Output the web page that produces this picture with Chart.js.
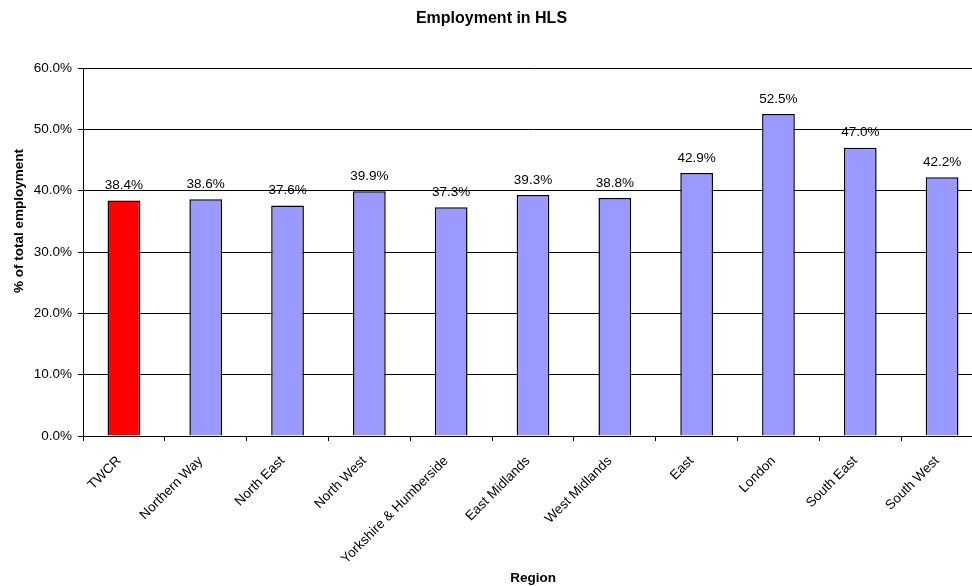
<!DOCTYPE html>
<html>
<head>
<meta charset="utf-8">
<script src="https://cdn.jsdelivr.net/npm/chart.js@4/dist/chart.umd.min.js"></script>
<style>
  html, body { margin: 0; padding: 0; overflow: hidden; background: #fff; }
  #wrap { width: 992px; height: 586px; position: relative; }
</style>
</head>
<body>
<div id="wrap"><canvas id="hlsChart"></canvas></div>
<script>
// Dados do gráfico
const regions = ['TWCR', 'Northern Way', 'North East', 'North West', 'Yorkshire & Humberside',
  'East Midlands', 'West Midlands', 'East', 'London', 'South East', 'South West'];
const shares = [38.4, 38.6, 37.6, 39.9, 37.3, 39.3, 38.8, 42.9, 52.5, 47.0, 42.2];
const barColors = ['#ff0000', '#9999ff', '#9999ff', '#9999ff', '#9999ff', '#9999ff',
  '#9999ff', '#9999ff', '#9999ff', '#9999ff', '#9999ff'];
const yTicks = [0, 10, 20, 30, 40, 50, 60];

const FONT = 'Arial, "Liberation Sans", sans-serif';
Chart.defaults.font.family = FONT;
Chart.defaults.color = '#000';

// rótulos de valor acima das barras + título do eixo Y
const valueLabels = {
  id: 'valueLabels',
  afterDatasetsDraw(chart) {
    const ctx = chart.ctx;
    const meta = chart.getDatasetMeta(0);
    ctx.save();
    ctx.font = '13.5px ' + FONT;
    ctx.fillStyle = '#000';
    ctx.textAlign = 'center';
    ctx.textBaseline = 'middle';
    meta.data.forEach((bar, i) => {
      ctx.fillText(shares[i].toFixed(1) + '%', bar.x, bar.y - 15);
    });
    // título do eixo Y (um pouco acima do centro, como no original)
    ctx.font = 'bold 13.5px ' + FONT;
    ctx.translate(19, 221);
    ctx.rotate(-Math.PI / 2);
    ctx.fillText('% of total employment', 0, 0);
    ctx.restore();
  }
};

new Chart(document.getElementById('hlsChart').getContext('2d'), {
  type: 'bar',
  data: {
    labels: regions,
    datasets: [{
      data: shares,
      backgroundColor: barColors,
      borderColor: '#000',
      borderWidth: 1.5,
      barPercentage: 0.4,
      categoryPercentage: 1
    }]
  },
  options: {
    responsive: true,
    maintainAspectRatio: false,
    animation: false,
    layout: { padding: { left: 0, right: 9, top: 0, bottom: 0 } },
    plugins: {
      legend: { display: false },
      tooltip: { enabled: false },
      title: {
        display: true,
        text: 'Employment in HLS',
        font: { size: 16, weight: 'bold' },
        color: '#000',
        padding: { top: 9.4, bottom: 39.4 }
      }
    },
    scales: {
      x: {
        afterFit: (s) => { s.height = 150; },
        grid: { drawOnChartArea: false, color: '#000', tickLength: 5, offset: true },
        border: { color: '#000' },
        ticks: {
          font: { size: 13.5 },
          color: '#000',
          minRotation: 45,
          maxRotation: 45,
          autoSkip: false,
          padding: 12,
          labelOffset: -5
        },
        title: {
          display: true,
          text: 'Region',
          font: { size: 13.5, weight: 'bold' },
          color: '#000',
          padding: { top: 0, bottom: 0 }
        }
      },
      y: {
        min: yTicks[0],
        max: yTicks[yTicks.length - 1],
        afterFit: (s) => { s.width = 83; },
        afterBuildTicks: (s) => { s.ticks = yTicks.map(v => ({ value: v })); },
        grid: { color: '#000', tickLength: 5 },
        border: { color: '#000' },
        ticks: {
          font: { size: 13.5 },
          color: '#000',
          padding: 6,
          callback: (v) => v.toFixed(1) + '%'
        }
      }
    }
  },
  plugins: [valueLabels]
});
</script>
</body>
</html>
